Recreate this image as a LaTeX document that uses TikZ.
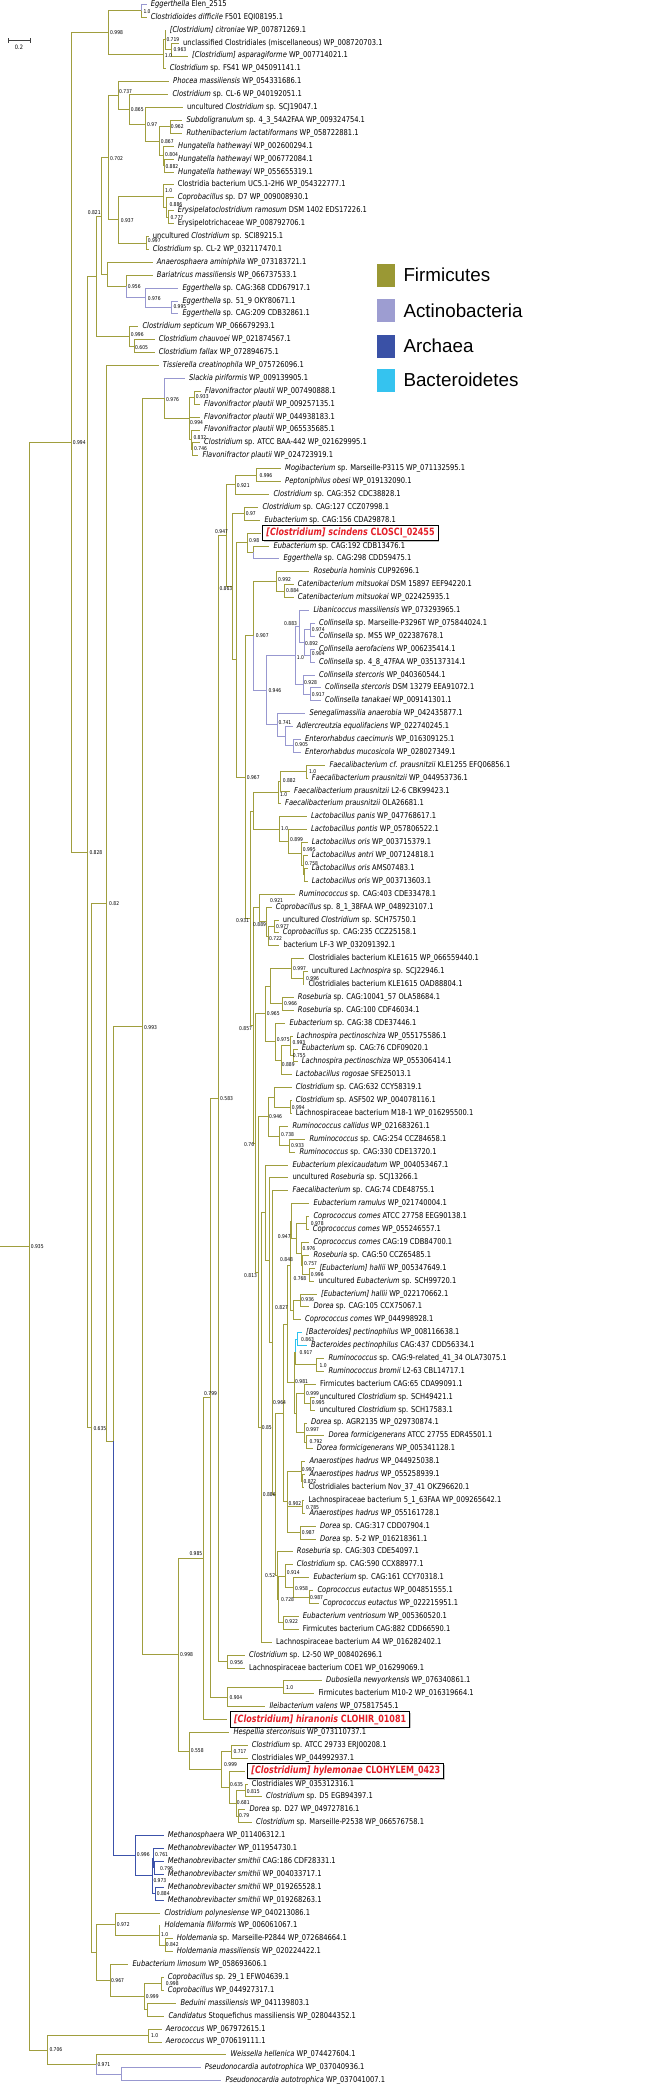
\documentclass[tikz,border=0pt]{standalone}
\usepackage{fontspec}
\setmainfont{DejaVu Sans}
\newfontfamily\trf[FakeStretch=0.84]{DejaVu Sans}
\newfontfamily\bxf[FakeStretch=0.8]{DejaVu Sans}
\newfontfamily\lgf{Liberation Sans}
\usetikzlibrary{calc,shadows}
\definecolor{firm}{RGB}{160,158,62}
\definecolor{acti}{RGB}{152,152,208}
\definecolor{arch}{RGB}{60,82,170}
\definecolor{bact}{RGB}{45,195,240}
\definecolor{redl}{RGB}{228,30,40}
\definecolor{sqF}{RGB}{154,152,52}
\definecolor{sqA}{RGB}{157,157,209}
\definecolor{sqR}{RGB}{58,81,166}
\definecolor{sqB}{RGB}{53,195,239}
\newcommand\itx[1]{\textit{#1}}
\newcommand\leafn[3]{\path ({#2-4},{4.3+12.896*(#1-1)}) coordinate (L#1);\node[lb] (T#1) at (#2,{4.3+12.896*(#1-1)}) {#3};}
\newcommand\boxleaf[4]{\path (#2,{4.3+12.896*(#1-1)}) coordinate (L#1);\node[bx] (T#1) at (#3,{4.3+12.896*(#1-1)}) {#4};}
\newcommand\inode[4]{\path let \p1=($(#3)!.5!(#4)$) in (#2pt,\y1) coordinate (#1);}
\newcommand\kids[3][fi]{\foreach \kid in {#3}{\draw[#1] (#2) |- (\kid);}}
\newcommand\supp[3]{\node[sup] at (#1,#2) {#3};}
\tikzset{
 fi/.style={draw=firm,line width=0.75pt},
 pu/.style={draw=acti,line width=0.75pt},
 bl/.style={draw=arch,line width=0.75pt},
 cy/.style={draw=bact,line width=0.75pt},
 lb/.style={anchor=west,inner sep=0pt,text height=5.8pt,text depth=1.6pt,font=\trf\fontsize{8}{9}\selectfont},
 sup/.style={anchor=west,inner sep=0pt,text=black,font=\trf\fontsize{5.3}{6}\selectfont},
 bx/.style={anchor=west,draw=black,line width=1.1pt,fill=white,text=redl,inner xsep=3.5pt,inner ysep=2.6pt,
   font=\bxf\bfseries\fontsize{10}{11}\selectfont,drop shadow={shadow xshift=1.2pt,shadow yshift=-1.2pt,fill=black!45}},
 legsq/.style={minimum width=18.5pt,minimum height=23pt,inner sep=0pt,draw=none},
 legt/.style={anchor=west,inner sep=0pt,font=\lgf\fontsize{18.8}{20}\selectfont},
 sbar/.style={draw=black!75,line width=0.8pt}
}
\begin{document}
\begin{tikzpicture}[x=1pt,y=-1pt]
\useasboundingbox (0,0) rectangle (653,2086);
\fill[white] (0,0) rectangle (653,2086);
% ---------------- leaves
\leafn{1}{150.7}{\itx{Eggerthella} Elen\_2515}
\leafn{2}{150.7}{\itx{Clostridioides difficile} F501 EQI08195.1}
\leafn{3}{169.7}{\itx{[Clostridium] citroniae} WP\_007871269.1}
\leafn{4}{183}{unclassified Clostridiales (miscellaneous) WP\_008720703.1}
\leafn{5}{192}{\itx{[Clostridium] asparagiforme} WP\_007714021.1}
\leafn{6}{169.7}{\itx{Clostridium} sp. FS41 WP\_045091141.1}
\leafn{7}{173}{\itx{Phocea massiliensis} WP\_054331686.1}
\leafn{8}{172.3}{\itx{Clostridium} sp. CL-6 WP\_040192051.1}
\leafn{9}{187}{uncultured \itx{Clostridium} sp. SCJ19047.1}
\leafn{10}{186.3}{\itx{Subdoligranulum} sp. 4\_3\_54A2FAA WP\_009324754.1}
\leafn{11}{186.3}{\itx{Ruthenibacterium lactatiformans} WP\_058722881.1}
\leafn{12}{178}{\itx{Hungatella hathewayi} WP\_002600294.1}
\leafn{13}{178}{\itx{Hungatella hathewayi} WP\_006772084.1}
\leafn{14}{178}{\itx{Hungatella hathewayi} WP\_055655319.1}
\leafn{15}{177.7}{Clostridia bacterium UC5.1-2H6 WP\_054322777.1}
\leafn{16}{177.7}{\itx{Coprobacillus} sp. D7 WP\_009008930.1}
\leafn{17}{177.7}{\itx{Erysipelatoclostridium ramosum} DSM 1402 EDS17226.1}
\leafn{18}{177.7}{Erysipelotrichaceae WP\_008792706.1}
\leafn{19}{152.7}{uncultured \itx{Clostridium} sp. SCI89215.1}
\leafn{20}{152.7}{\itx{Clostridium} sp. CL-2 WP\_032117470.1}
\leafn{21}{156.7}{\itx{Anaerosphaera aminiphila} WP\_073183721.1}
\leafn{22}{156.7}{\itx{Bariatricus massiliensis} WP\_066737533.1}
\leafn{23}{182.3}{\itx{Eggerthella} sp. CAG:368 CDD67917.1}
\leafn{24}{182.3}{\itx{Eggerthella} sp. 51\_9 OKY80671.1}
\leafn{25}{182.3}{\itx{Eggerthella} sp. CAG:209 CDB32861.1}
\leafn{26}{142.3}{\itx{Clostridium septicum} WP\_066679293.1}
\leafn{27}{158.7}{\itx{Clostridium chauvoei} WP\_021874567.1}
\leafn{28}{158.7}{\itx{Clostridium fallax} WP\_072894675.1}
\leafn{29}{162.7}{\itx{Tissierella creatinophila} WP\_075726096.1}
\leafn{30}{189}{\itx{Slackia piriformis} WP\_009139905.1}
\leafn{31}{205}{\itx{Flavonifractor plautii} WP\_007490888.1}
\leafn{32}{204}{\itx{Flavonifractor plautii} WP\_009257135.1}
\leafn{33}{204}{\itx{Flavonifractor plautii} WP\_044938183.1}
\leafn{34}{204}{\itx{Flavonifractor plautii} WP\_065535685.1}
\leafn{35}{204}{\itx{Clostridium} sp. ATCC BAA-442 WP\_021629995.1}
\leafn{36}{202.3}{\itx{Flavonifractor plautii} WP\_024723919.1}
\leafn{37}{285}{\itx{Mogibacterium} sp. Marseille-P3115 WP\_071132595.1}
\leafn{38}{285}{\itx{Peptoniphilus obesi} WP\_019132090.1}
\leafn{39}{273.3}{\itx{Clostridium} sp. CAG:352 CDC38828.1}
\leafn{40}{262.3}{\itx{Clostridium} sp. CAG:127 CCZ07998.1}
\leafn{41}{264.3}{\itx{Eubacterium} sp. CAG:156 CDA29878.1}
\boxleaf{42}{261}{262.3}{\itx{[Clostridium] scindens} CLOSCI\_02455}
\leafn{43}{273.3}{\itx{Eubacterium} sp. CAG:192 CDB13476.1}
\leafn{44}{283.3}{\itx{Eggerthella} sp. CAG:298 CDD59475.1}
\leafn{45}{313.3}{\itx{Roseburia hominis} CUP92696.1}
\leafn{46}{297.7}{\itx{Catenibacterium mitsuokai} DSM 15897 EEF94220.1}
\leafn{47}{297.7}{\itx{Catenibacterium mitsuokai} WP\_022425935.1}
\leafn{48}{313.3}{\itx{Libanicoccus massiliensis} WP\_073293965.1}
\leafn{49}{319}{\itx{Collinsella} sp. Marseille-P3296T WP\_075844024.1}
\leafn{50}{319}{\itx{Collinsella} sp. MS5 WP\_022387678.1}
\leafn{51}{319}{\itx{Collinsella aerofaciens} WP\_006235414.1}
\leafn{52}{319}{\itx{Collinsella} sp. 4\_8\_47FAA WP\_035137314.1}
\leafn{53}{319}{\itx{Collinsella stercoris} WP\_040360544.1}
\leafn{54}{325}{\itx{Collinsella stercoris} DSM 13279 EEA91072.1}
\leafn{55}{325}{\itx{Collinsella tanakaei} WP\_009141301.1}
\leafn{56}{309.3}{\itx{Senegalimassilia anaerobia} WP\_042435877.1}
\leafn{57}{296.7}{\itx{Adlercreutzia equolifaciens} WP\_022740245.1}
\leafn{58}{305}{\itx{Enterorhabdus caecimuris} WP\_016309125.1}
\leafn{59}{305}{\itx{Enterorhabdus mucosicola} WP\_028027349.1}
\leafn{60}{329.3}{\itx{Faecalibacterium cf. prausnitzii} KLE1255 EFQ06856.1}
\leafn{61}{311.7}{\itx{Faecalibacterium prausnitzii} WP\_044953736.1}
\leafn{62}{294}{\itx{Faecalibacterium prausnitzii} L2-6 CBK99423.1}
\leafn{63}{285}{\itx{Faecalibacterium prausnitzii} OLA26681.1}
\leafn{64}{311}{\itx{Lactobacillus panis} WP\_047768617.1}
\leafn{65}{311}{\itx{Lactobacillus pontis} WP\_057806522.1}
\leafn{66}{311.7}{\itx{Lactobacillus oris} WP\_003715379.1}
\leafn{67}{311.7}{\itx{Lactobacillus antri} WP\_007124818.1}
\leafn{68}{311.7}{\itx{Lactobacillus oris} AMS07483.1}
\leafn{69}{311.7}{\itx{Lactobacillus oris} WP\_003713603.1}
\leafn{70}{299}{\itx{Ruminococcus} sp. CAG:403 CDE33478.1}
\leafn{71}{275.7}{\itx{Coprobacillus} sp. 8\_1\_38FAA WP\_048923107.1}
\leafn{72}{282.7}{uncultured \itx{Clostridium} sp. SCH75750.1}
\leafn{73}{282.7}{\itx{Coprobacillus} sp. CAG:235 CCZ25158.1}
\leafn{74}{283.3}{bacterium LF-3 WP\_032091392.1}
\leafn{75}{308.3}{Clostridiales bacterium KLE1615 WP\_066559440.1}
\leafn{76}{311.7}{uncultured \itx{Lachnospira} sp. SCJ22946.1}
\leafn{77}{308.3}{Clostridiales bacterium KLE1615 OAD88804.1}
\leafn{78}{297.7}{\itx{Roseburia} sp. CAG:10041\_57 OLA58684.1}
\leafn{79}{297.7}{\itx{Roseburia} sp. CAG:100 CDF46034.1}
\leafn{80}{289.3}{\itx{Eubacterium} sp. CAG:38 CDE37446.1}
\leafn{81}{296.7}{\itx{Lachnospira pectinoschiza} WP\_055175586.1}
\leafn{82}{301.7}{\itx{Eubacterium} sp. CAG:76 CDF09020.1}
\leafn{83}{301.7}{\itx{Lachnospira pectinoschiza} WP\_055306414.1}
\leafn{84}{295.7}{\itx{Lactobacillus rogosae} SFE25013.1}
\leafn{85}{295.7}{\itx{Clostridium} sp. CAG:632 CCY58319.1}
\leafn{86}{295.7}{\itx{Clostridium} sp. ASF502 WP\_004078116.1}
\leafn{87}{295.7}{Lachnospiraceae bacterium M18-1 WP\_016295500.1}
\leafn{88}{292.3}{\itx{Ruminococcus callidus} WP\_021683261.1}
\leafn{89}{309.3}{\itx{Ruminococcus} sp. CAG:254 CCZ84658.1}
\leafn{90}{299.3}{\itx{Ruminococcus} sp. CAG:330 CDE13720.1}
\leafn{91}{292.3}{\itx{Eubacterium plexicaudatum} WP\_004053467.1}
\leafn{92}{292.3}{uncultured \itx{Roseburia} sp. SCJ13266.1}
\leafn{93}{292.3}{\itx{Faecalibacterium} sp. CAG:74 CDE48755.1}
\leafn{94}{313.3}{\itx{Eubacterium ramulus} WP\_021740004.1}
\leafn{95}{313.3}{\itx{Coprococcus comes} ATCC 27758 EEG90138.1}
\leafn{96}{312.7}{\itx{Coprococcus comes} WP\_055246557.1}
\leafn{97}{313.3}{\itx{Coprococcus comes} CAG:19 CDB84700.1}
\leafn{98}{313.3}{\itx{Roseburia} sp. CAG:50 CCZ65485.1}
\leafn{99}{319.3}{\itx{[Eubacterium] hallii} WP\_005347649.1}
\leafn{100}{318.3}{uncultured \itx{Eubacterium} sp. SCH99720.1}
\leafn{101}{321}{\itx{[Eubacterium] hallii} WP\_022170662.1}
\leafn{102}{313.3}{\itx{Dorea} sp. CAG:105 CCX75067.1}
\leafn{103}{305}{\itx{Coprococcus comes} WP\_044998928.1}
\leafn{104}{306}{\itx{[Bacteroides] pectinophilus} WP\_008116638.1}
\leafn{105}{311}{\itx{Bacteroides pectinophilus} CAG:437 CDD56334.1}
\leafn{106}{328.3}{\itx{Ruminococcus} sp. CAG:9-related\_41\_34 OLA73075.1}
\leafn{107}{328.3}{\itx{Ruminococcus bromii} L2-63 CBL14717.1}
\leafn{108}{320}{Firmicutes bacterium CAG:65 CDA99091.1}
\leafn{109}{319.3}{uncultured \itx{Clostridium} sp. SCH49421.1}
\leafn{110}{319.3}{uncultured \itx{Clostridium} sp. SCH17583.1}
\leafn{111}{311}{\itx{Dorea} sp. AGR2135 WP\_029730874.1}
\leafn{112}{328.3}{\itx{Dorea formicigenerans} ATCC 27755 EDR45501.1}
\leafn{113}{316.7}{\itx{Dorea formicigenerans} WP\_005341128.1}
\leafn{114}{309.3}{\itx{Anaerostipes hadrus} WP\_044925038.1}
\leafn{115}{309.3}{\itx{Anaerostipes hadrus} WP\_055258939.1}
\leafn{116}{308.3}{Clostridiales bacterium Nov\_37\_41 OKZ96620.1}
\leafn{117}{308.3}{Lachnospiraceae bacterium 5\_1\_63FAA WP\_009265642.1}
\leafn{118}{309.3}{\itx{Anaerostipes hadrus} WP\_055161728.1}
\leafn{119}{320}{\itx{Dorea} sp. CAG:317 CDD07904.1}
\leafn{120}{320}{\itx{Dorea} sp. 5-2 WP\_016218361.1}
\leafn{121}{296.7}{\itx{Roseburia} sp. CAG:303 CDE54097.1}
\leafn{122}{296.7}{\itx{Clostridium} sp. CAG:590 CCX88977.1}
\leafn{123}{313.3}{\itx{Eubacterium} sp. CAG:161 CCY70318.1}
\leafn{124}{317.3}{\itx{Coprococcus eutactus} WP\_004851555.1}
\leafn{125}{322.7}{\itx{Coprococcus eutactus} WP\_022215951.1}
\leafn{126}{302.7}{\itx{Eubacterium ventriosum} WP\_005360520.1}
\leafn{127}{302.7}{Firmicutes bacterium CAG:882 CDD66590.1}
\leafn{128}{276}{Lachnospiraceae bacterium A4 WP\_016282402.1}
\leafn{129}{249}{\itx{Clostridium} sp. L2-50 WP\_008402696.1}
\leafn{130}{249}{Lachnospiraceae bacterium COE1 WP\_016299069.1}
\leafn{131}{326}{\itx{Dubosiella newyorkensis} WP\_076340861.1}
\leafn{132}{318.3}{Firmicutes bacterium M10-2 WP\_016319664.1}
\leafn{133}{269.3}{\itx{Ileibacterium valens} WP\_075817545.1}
\boxleaf{134}{227}{230}{\itx{[Clostridium] hiranonis} CLOHIR\_01081}
\leafn{135}{233.3}{\itx{Hespellia stercorisuis} WP\_073110737.1}
\leafn{136}{251.7}{\itx{Clostridium} sp. ATCC 29733 ERJ00208.1}
\leafn{137}{251.7}{Clostridiales WP\_044992937.1}
\boxleaf{138}{245}{247.3}{\itx{[Clostridium] hylemonae} CLOHYLEM\_0423}
\leafn{139}{251.7}{Clostridiales WP\_035312316.1}
\leafn{140}{266}{\itx{Clostridium} sp. D5 EGB94397.1}
\leafn{141}{249.3}{\itx{Dorea} sp. D27 WP\_049727816.1}
\leafn{142}{256}{\itx{Clostridium} sp. Marseille-P2538 WP\_066576758.1}
\leafn{143}{167.7}{\itx{Methanosphaera} WP\_011406312.1}
\leafn{144}{167.7}{\itx{Methanobrevibacter} WP\_011954730.1}
\leafn{145}{167.7}{\itx{Methanobrevibacter smithii} CAG:186 CDF28331.1}
\leafn{146}{167.7}{\itx{Methanobrevibacter smithii} WP\_004033717.1}
\leafn{147}{167.7}{\itx{Methanobrevibacter smithii} WP\_019265528.1}
\leafn{148}{167.7}{\itx{Methanobrevibacter smithii} WP\_019268263.1}
\leafn{149}{164.3}{\itx{Clostridium polynesiense} WP\_040213086.1}
\leafn{150}{164.3}{\itx{Holdemania filiformis} WP\_006061067.1}
\leafn{151}{176.7}{\itx{Holdemania} sp. Marseille-P2844 WP\_072684664.1}
\leafn{152}{176.7}{\itx{Holdemania massiliensis} WP\_020224422.1}
\leafn{153}{132.3}{\itx{Eubacterium limosum} WP\_058693606.1}
\leafn{154}{167.7}{\itx{Coprobacillus} sp. 29\_1 EFW04639.1}
\leafn{155}{167.7}{\itx{Coprobacillus} WP\_044927317.1}
\leafn{156}{180.3}{\itx{Beduini massiliensis} WP\_041139803.1}
\leafn{157}{168.3}{\itx{Candidatus} Stoquefichus massiliensis WP\_028044352.1}
\leafn{158}{165.7}{\itx{Aerococcus} WP\_067972615.1}
\leafn{159}{165.7}{\itx{Aerococcus} WP\_070619111.1}
\leafn{160}{230.3}{\itx{Weissella hellenica} WP\_074427604.1}
\leafn{161}{204.7}{\itx{Pseudonocardia autotrophica} WP\_037040936.1}
\leafn{162}{225.3}{\itx{Pseudonocardia autotrophica} WP\_037041007.1}
% ---------------- internal nodes (bottom-up)
\inode{t1}{141.7}{L1}{L2}
\inode{t3}{171.3}{L4}{L5}
\inode{t2}{165.3}{L3}{t3}
\inode{t4}{163.3}{t2}{L6}
\inode{a1}{108.7}{t1}{t4}
\inode{h1}{170}{L10}{L11}
\inode{h2}{164.5}{L13}{L14}
\inode{h3}{163}{L12}{h2}
\inode{h4}{159}{h1}{h3}
\inode{h5}{145.7}{L9}{h4}
\inode{h6}{129.3}{L8}{h5}
\inode{h7}{118.3}{L7}{h6}
\inode{e1}{168.3}{L17}{L18}
\inode{e2}{166.7}{L16}{e1}
\inode{e3}{163.3}{L15}{e2}
\inode{e4}{146.7}{L19}{L20}
\inode{e5}{118.3}{e3}{e4}
\inode{d1}{108.7}{h7}{e5}
\inode{g1}{171.7}{L24}{L25}
\inode{g2}{145.7}{L23}{g1}
\inode{g3}{126}{L22}{g2}
\inode{g4}{107.3}{L21}{g3}
\inode{d2}{101.7}{d1}{g4}
\inode{c1}{134.3}{L27}{L28}
\inode{c2}{129.3}{L26}{c1}
\inode{b1}{96.7}{d2}{c2}
\inode{f1}{194}{L31}{L32}
\inode{f2}{192.7}{L35}{L36}
\inode{f3}{191.7}{L34}{f2}
\inode{f4}{189}{f1}{f3}
\inode{f5}{164.3}{L30}{f4}
\inode{m1}{256.7}{L37}{L38}
\inode{m2}{235}{m1}{L39}
\inode{m3}{244}{L40}{L41}
\inode{m4}{253.3}{L43}{L44}
\inode{m5}{247.3}{L42}{m4}
\inode{r1}{284}{L46}{L47}
\inode{r2}{276}{L45}{r1}
\inode{k1}{310.7}{L49}{L50}
\inode{k2}{310}{L51}{L52}
\inode{k3}{304}{k1}{k2}
\inode{k4}{299}{L48}{k3}
\inode{k5}{310}{L54}{L55}
\inode{k6}{303.3}{L53}{k5}
\inode{k7}{295}{k4}{k6}
\inode{k8}{293.3}{L58}{L59}
\inode{k9}{285.7}{L57}{k8}
\inode{k10}{277.3}{L56}{k9}
\inode{k11}{266.7}{k7}{k10}
\inode{r3}{253.3}{r2}{k11}
\inode{q1}{306}{L60}{L61}
\inode{q2}{280}{q1}{L62}
\inode{q3}{278}{q2}{L63}
\inode{q4}{304}{L68}{L69}
\inode{q5}{303.3}{L67}{q4}
\inode{q6}{301.7}{L66}{q5}
\inode{q7}{288.3}{L65}{q6}
\inode{q8}{279.3}{L64}{q7}
\inode{q9}{253.3}{q3}{q8}
\inode{s1}{274.3}{L72}{L73}
\inode{s2}{268.3}{s1}{L74}
\inode{s3}{266.7}{L71}{s2}
\inode{s4}{259.3}{L70}{s3}
\inode{s5}{303}{L76}{L77}
\inode{s6}{291.7}{L75}{s5}
\inode{s7}{282.7}{L78}{L79}
\inode{s8}{270.7}{s6}{s7}
\inode{s9}{293.3}{L82}{L83}
\inode{s10}{290.7}{L81}{s9}
\inode{s11}{281}{s10}{L84}
\inode{s12}{275}{L80}{s11}
\inode{s13}{265}{s8}{s12}
\inode{u1}{290}{L86}{L87}
\inode{u2}{274}{L85}{u1}
\inode{u3}{289.3}{L89}{L90}
\inode{u4}{279.3}{L88}{u3}
\inode{u5}{268.3}{u2}{u4}
\inode{y1}{306}{L95}{L96}
\inode{y3}{309.3}{L99}{L100}
\inode{y4}{302.7}{L98}{y3}
\inode{y2}{301}{L97}{y4}
\inode{y5}{296}{y1}{y2}
\inode{y6}{291}{L94}{y5}
\inode{y7}{300.3}{L101}{L102}
\inode{y8}{293.3}{y7}{L103}
\inode{y9}{290}{y6}{y8}
\inode{z1}{297.7}{L104}{L105}
\inode{z2}{316.7}{L106}{L107}
\inode{z3}{295}{z1}{z2}
\inode{z4}{310}{L109}{L110}
\inode{z5}{304.3}{L108}{z4}
\inode{w1}{306}{L112}{L113}
\inode{w2}{304.3}{L111}{w1}
\inode{z7}{296}{z5}{w2}
\inode{z6}{294}{z3}{z7}
\inode{y10}{287.3}{y9}{z6}
\inode{w4}{302.3}{L115}{L116}
\inode{w5}{301.7}{L114}{w4}
\inode{w3}{302.5}{L117}{L118}
\inode{w7}{300}{L119}{L120}
\inode{w8}{287.3}{w5}{w7}
\inode{y11}{283.3}{y10}{w8}
\inode{v1}{309.3}{L124}{L125}
\inode{v2}{293.3}{L123}{v1}
\inode{v5}{285}{L122}{v2}
\inode{v3}{283.3}{L126}{L127}
\inode{v4}{278.3}{v5}{v3}
\inode{v6}{277}{L121}{v4}
\inode{x1}{275}{y11}{v6}
\inode{x2}{272.7}{L93}{x1}
\inode{x3}{269.3}{L92}{x2}
\inode{x4}{265}{L91}{x3}
\inode{x5}{261}{x4}{L128}
\inode{x6}{258.3}{u5}{x5}
\inode{x7}{255}{s13}{x6}
\inode{x8}{253.3}{s4}{x7}
\inode{x9}{250}{q9}{x8}
\inode{x10}{245}{r3}{x9}
\inode{p1}{236}{m5}{x10}
\inode{p2}{232.3}{m3}{p1}
\inode{p3}{226.7}{m2}{p2}
\inode{p4}{227.7}{L129}{L130}
\inode{p5}{218.3}{p3}{p4}
\inode{p6}{283.3}{L131}{L132}
\inode{p7}{227.7}{p6}{L133}
\inode{p8}{210.7}{p5}{p7}
\inode{p9}{203.3}{p8}{L134}
\inode{j1}{231.7}{L136}{L137}
\inode{j2}{245.7}{L139}{L140}
\inode{j3}{238.3}{L141}{L142}
\inode{j4}{236.7}{j2}{j3}
\inode{j5}{229.3}{L138}{j4}
\inode{j6}{221.7}{j1}{j5}
\inode{j7}{189}{L135}{j6}
\inode{o1}{178.3}{p9}{j7}
\inode{o2}{142.3}{f5}{o1}
\inode{ar1}{154}{L145}{L146}
\inode{ar2}{153.3}{L144}{ar1}
\inode{ar3}{155}{L147}{L148}
\inode{ar4}{152.3}{ar2}{ar3}
\inode{ar5}{135}{L143}{ar4}
\inode{o3}{113.3}{o2}{ar5}
\inode{o4}{106.7}{L29}{o3}
\inode{i1}{165}{L151}{L152}
\inode{i2}{159.3}{L150}{i1}
\inode{i3}{115}{L149}{i2}
\inode{i4}{161}{L154}{L155}
\inode{i5}{147.7}{L156}{L157}
\inode{i6}{144}{i4}{i5}
\inode{i7}{110}{L153}{i6}
\inode{i8}{96.7}{i3}{i7}
\inode{o5}{91.7}{o4}{i8}
\inode{a2}{87.7}{b1}{o5}
\inode{a0}{71}{a1}{a2}
\inode{bb1}{148.3}{L158}{L159}
\inode{bb2}{121.3}{L161}{L162}
\inode{bb3}{96}{L160}{bb2}
\inode{bb4}{47.7}{bb1}{bb3}
\inode{rt}{29}{a0}{bb4}
\path let \p1=(rt) in (0pt,\y1) coordinate (rs);
% ---------------- branches
\draw[fi] (rs) -- (rt);
\kids{rt}{a0,bb4}
\kids{a0}{a1,a2}
\kids{a1}{t1,t4}
\kids[pu]{t1}{L1}\kids{t1}{L2}
\kids{t4}{t2,L6}
\kids{t2}{L3,t3}
\kids{t3}{L4,L5}
\kids{a2}{b1,o5}
\kids{b1}{d2,c2}
\kids{d2}{d1,g4}
\kids{d1}{h7,e5}
\kids{h7}{L7,h6}
\kids{h6}{L8,h5}
\kids{h5}{L9,h4}
\kids{h4}{h1,h3}
\kids{h1}{L10,L11}
\kids{h3}{L12,h2}
\kids{h2}{L13,L14}
\kids{e5}{e3,e4}
\kids{e3}{L15,e2}
\kids{e2}{L16,e1}
\kids{e1}{L17,L18}
\kids{e4}{L19,L20}
\kids{g4}{L21,g3}
\kids{g3}{L22}\kids[pu]{g3}{g2}
\kids[pu]{g2}{L23,g1}
\kids[pu]{g1}{L24,L25}
\kids{c2}{L26,c1}
\kids{c1}{L27,L28}
\kids{o5}{o4,i8}
\kids{o4}{L29,o3}
\kids{o3}{o2}\kids[bl]{o3}{ar5}
\kids{o2}{f5,o1}
\kids[pu]{f5}{L30}\kids{f5}{f4}
\kids{f4}{f1,L33,f3}
\kids{f1}{L31,L32}
\kids{f3}{L34,f2}
\kids{f2}{L35,L36}
\kids{o1}{p9,j7}
\kids{p9}{p8,L134}
\kids{p8}{p5,p7}
\kids{p5}{p3,p4}
\kids{p3}{m2,p2}
\kids{m2}{m1,L39}
\kids{m1}{L37,L38}
\kids{p2}{m3,p1}
\kids{m3}{L40,L41}
\kids{p1}{m5,x10}
\kids{m5}{L42,m4}
\kids{m4}{L43}\kids[pu]{m4}{L44}
\kids{x10}{r3,x9}
\kids{r3}{r2}\kids[pu]{r3}{k11}
\kids{r2}{L45,r1}
\kids{r1}{L46,L47}
\kids[pu]{k11}{k7,k10}
\kids[pu]{k7}{k4,k6}
\kids[pu]{k4}{L48,k3}
\kids[pu]{k3}{k1,k2}
\kids[pu]{k1}{L49,L50}
\kids[pu]{k2}{L51,L52}
\kids[pu]{k6}{L53,k5}
\kids[pu]{k5}{L54,L55}
\kids[pu]{k10}{L56,k9}
\kids[pu]{k9}{L57,k8}
\kids[pu]{k8}{L58,L59}
\kids{x9}{q9,x8}
\kids{q9}{q3,q8}
\kids{q3}{q2,L63}
\kids{q2}{q1,L62}
\kids{q1}{L60,L61}
\kids{q8}{L64,q7}
\kids{q7}{L65,q6}
\kids{q6}{L66,q5}
\kids{q5}{L67,q4}
\kids{q4}{L68,L69}
\kids{x8}{s4,x7}
\kids{s4}{L70,s3}
\kids{s3}{L71,s2}
\kids{s2}{s1,L74}
\kids{s1}{L72,L73}
\kids{x7}{s13,x6}
\kids{s13}{s8,s12}
\kids{s8}{s6,s7}
\kids{s6}{L75,s5}
\kids{s5}{L76,L77}
\kids{s7}{L78,L79}
\kids{s12}{L80,s11}
\kids{s11}{s10,L84}
\kids{s10}{L81,s9}
\kids{s9}{L82,L83}
\kids{x6}{u5,x5}
\kids{u5}{u2,u4}
\kids{u2}{L85,u1}
\kids{u1}{L86,L87}
\kids{u4}{L88,u3}
\kids{u3}{L89,L90}
\kids{x5}{x4,L128}
\kids{x4}{L91,x3}
\kids{x3}{L92,x2}
\kids{x2}{L93,x1}
\kids{x1}{y11,v6}
\kids{y11}{y10,w8}
\kids{y10}{y9,z6}
\kids{y9}{y6,y8}
\kids{y6}{L94,y5}
\kids{y5}{y1,y2}
\kids{y1}{L95,L96}
\kids{y2}{L97,y4}
\kids{y4}{L98,y3}
\kids{y3}{L99,L100}
\kids{y8}{y7,L103}
\kids{y7}{L101,L102}
\kids{z6}{z3,z7}
\kids{z3}{z2}\kids[cy]{z3}{z1}
\kids[cy]{z1}{L104,L105}
\kids{z2}{L106,L107}
\kids{z7}{z5,w2}
\kids{z5}{L108,z4}
\kids{z4}{L109,L110}
\kids{w2}{L111,w1}
\kids{w1}{L112,L113}
\kids{w8}{w5,w3,w7}
\kids{w5}{L114,w4}
\kids{w4}{L115,L116}
\kids{w3}{L117,L118}
\kids{w7}{L119,L120}
\kids{v6}{L121,v4}
\kids{v4}{v5,v3}
\kids{v5}{L122,v2}
\kids{v2}{L123,v1}
\kids{v1}{L124,L125}
\kids{v3}{L126,L127}
\kids{p4}{L129,L130}
\kids{p7}{p6,L133}
\kids{p6}{L131,L132}
\kids{j7}{L135,j6}
\kids{j6}{j1,j5}
\kids{j1}{L136,L137}
\kids{j5}{L138,j4}
\kids{j4}{j2,j3}
\kids{j2}{L139,L140}
\kids{j3}{L141,L142}
\kids[bl]{ar5}{L143,ar4}
\kids[bl]{ar4}{ar2,ar3}
\kids[bl]{ar2}{L144,ar1}
\kids[bl]{ar1}{L145,L146}
\kids[bl]{ar3}{L147,L148}
\kids{i8}{i3,i7}
\kids{i3}{L149,i2}
\kids{i2}{L150,i1}
\kids{i1}{L151,L152}
\kids{i7}{L153,i6}
\kids{i6}{i4,i5}
\kids{i4}{L154,L155}
\kids{i5}{L156,L157}
\kids{bb4}{bb1,bb3}
\kids{bb1}{L158,L159}
\kids{bb3}{L160}\kids[pu]{bb3}{bb2}
\kids[pu]{bb2}{L161,L162}
% ---------------- support values
\supp{30.7}{1246.7}{0.935}
\supp{72.7}{442.7}{0.994}
\supp{110}{32.7}{0.998}
\supp{143.3}{11.3}{1.0}
\supp{164.7}{56}{1.0}
\supp{166.3}{39.3}{0.719}
\supp{173.3}{50}{0.963}
\supp{89.3}{852.7}{0.828}
\supp{87.7}{212.3}{0.821}
\supp{110}{158.3}{0.702}
\supp{119}{91.7}{0.737}
\supp{130.7}{110}{0.865}
\supp{147}{125}{0.97}
\supp{160.7}{141.7}{0.867}
\supp{170.7}{126.7}{0.962}
\supp{165}{155}{0.804}
\supp{165.3}{166.7}{0.882}
\supp{120.7}{220.3}{0.937}
\supp{165}{191}{1.0}
\supp{169.3}{204.3}{0.886}
\supp{170.3}{217.7}{0.777}
\supp{147.7}{241}{0.997}
\supp{127.7}{286.7}{0.956}
\supp{147.7}{298.3}{0.976}
\supp{173.3}{306.7}{0.995}
\supp{130.7}{334.3}{0.996}
\supp{135}{347.3}{0.605}
\supp{93.3}{1428.3}{0.635}
\supp{109}{904}{0.82}
\supp{144}{1027.7}{0.993}
\supp{166}{400}{0.976}
\supp{190}{422.7}{0.994}
\supp{195.7}{396.7}{0.933}
\supp{193.3}{437.3}{0.832}
\supp{194}{449}{0.746}
\supp{180}{1655}{0.998}
\supp{189.3}{1554}{0.985}
\supp{204}{1394}{0.799}
\supp{220}{1099}{0.583}
\supp{215}{531.7}{0.947}
\supp{236.7}{485.7}{0.921}
\supp{259.3}{475.7}{0.996}
\supp{219.3}{588.3}{0.863}
\supp{245.7}{514}{0.97}
\supp{249}{540.7}{0.98}
\supp{246.7}{777.3}{0.967}
\supp{255.7}{636}{0.907}
\supp{278}{580}{0.992}
\supp{286}{590.7}{0.884}
\supp{268.3}{690.7}{0.946}
\supp{296.7}{657.7}{1.0}
\supp{284}{624}{0.883}
\supp{305}{643.3}{0.892}
\supp{311.7}{629.3}{0.974}
\supp{311.7}{654}{0.904}
\supp{304}{682.3}{0.928}
\supp{311.7}{695}{0.917}
\supp{278.3}{722.7}{0.741}
\supp{295}{744.3}{0.905}
\supp{236}{920.7}{0.931}
\supp{280}{794.3}{1.0}
\supp{282.7}{781}{0.882}
\supp{309}{771.7}{1.0}
\supp{281}{828.3}{1.0}
\supp{290}{840}{0.899}
\supp{302.7}{849.3}{0.995}
\supp{305}{863.3}{0.758}
\supp{239}{1028.3}{0.857}
\supp{270}{901}{0.921}
\supp{253}{924.3}{0.889}
\supp{269}{938.3}{0.722}
\supp{276}{926.7}{0.977}
\supp{244}{1145}{0.76}
\supp{266.7}{1013.3}{0.965}
\supp{293}{968.3}{0.997}
\supp{306}{978.3}{0.996}
\supp{284}{1003.3}{0.966}
\supp{276.7}{1039.3}{0.975}
\supp{281.7}{1064.3}{0.889}
\supp{292.3}{1042.7}{0.993}
\supp{292.7}{1056}{0.755}
\supp{244}{1275.7}{0.813}
\supp{269}{1116.7}{0.946}
\supp{291.7}{1107.3}{0.994}
\supp{281}{1135}{0.738}
\supp{291}{1146}{0.933}
\supp{261.7}{1427.7}{0.85}
\supp{262.7}{1494.3}{0.886}
\supp{273}{1402.7}{0.964}
\supp{275}{1307.7}{0.827}
\supp{280}{1259.3}{0.848}
\supp{277.7}{1236.7}{0.947}
\supp{310.7}{1223.3}{0.978}
\supp{302.3}{1248.3}{0.976}
\supp{304}{1264}{0.757}
\supp{310.7}{1274.3}{0.996}
\supp{293.3}{1278.3}{0.768}
\supp{301}{1300}{0.936}
\supp{295}{1381.7}{0.981}
\supp{299.3}{1352.3}{0.917}
\supp{301}{1339.3}{0.863}
\supp{319.3}{1365.7}{1.0}
\supp{306}{1393.3}{0.999}
\supp{311.7}{1402.7}{0.995}
\supp{306}{1430}{0.997}
\supp{309.3}{1441.7}{0.792}
\supp{288.3}{1503.3}{0.902}
\supp{301.7}{1469.3}{0.997}
\supp{303.3}{1481.7}{0.872}
\supp{306}{1507.3}{0.785}
\supp{301.7}{1532.3}{0.987}
\supp{265}{1576}{0.52}
\supp{281}{1599.3}{0.728}
\supp{286.7}{1572.7}{0.914}
\supp{295}{1588.3}{0.958}
\supp{310}{1597.7}{0.987}
\supp{285}{1621.7}{0.922}
\supp{230}{1662.3}{0.956}
\supp{229.3}{1697.3}{0.904}
\supp{286}{1687.7}{1.0}
\supp{190.7}{1751}{0.558}
\supp{224}{1765}{0.999}
\supp{233.3}{1751.7}{0.717}
\supp{230}{1785}{0.635}
\supp{236.7}{1802.3}{0.681}
\supp{246.7}{1791.7}{0.815}
\supp{239}{1816}{0.79}
\supp{136.7}{1855}{0.996}
\supp{153.3}{1880.7}{0.973}
\supp{155}{1855}{0.761}
\supp{160}{1868.3}{0.796}
\supp{156.7}{1894}{0.884}
\supp{116.7}{1924.3}{0.972}
\supp{161}{1935}{1.0}
\supp{165.7}{1944.3}{0.842}
\supp{111}{1980.7}{0.967}
\supp{145.7}{1996.7}{0.999}
\supp{165.7}{1984}{0.998}
\supp{49.3}{2050}{0.706}
\supp{151}{2036}{1.0}
\supp{97.3}{2064.3}{0.971}
% ---------------- scale bar
\coordinate (sbA) at (8.3,40.7);
\coordinate (sbB) at (30,40.7);
\draw[sbar] (sbA) -- (sbB);
\draw[sbar] ([yshift=2.5pt]sbA) -- ([yshift=-2.5pt]sbA);
\draw[sbar] ([yshift=2.5pt]sbB) -- ([yshift=-2.5pt]sbB);
\node[inner sep=0pt,font=\trf\fontsize{6}{7}\selectfont] (sbl) at (19,47.5) {0.2};
% ---------------- legend
\node[legsq,fill=sqF] (lg1) at (386,275) {};
\node[legsq,fill=sqA] (lg2) at (386,310.5) {};
\node[legsq,fill=sqR] (lg3) at (386,346) {};
\node[legsq,fill=sqB] (lg4) at (386,380) {};
\node[legt] (lt1) at (403.3,275) {Firmicutes};
\node[legt] (lt2) at (403.3,310.5) {Actinobacteria};
\node[legt] (lt3) at (403.3,346) {Archaea};
\node[legt] (lt4) at (403.3,380) {Bacteroidetes};
\end{tikzpicture}
\end{document}
